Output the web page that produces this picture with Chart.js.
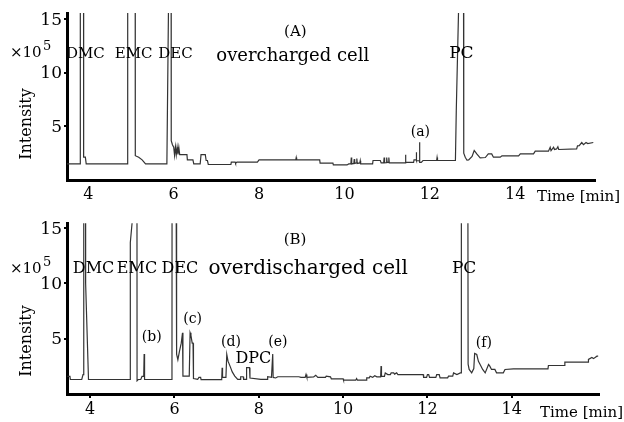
<!DOCTYPE html>
<html>
<head>
<meta charset="utf-8">
<script src="https://cdn.jsdelivr.net/npm/chart.js@4.4.1/dist/chart.umd.min.js"></script>
<style>
  html, body { margin: 0; padding: 0; background: #fff; }
  #wrap { position: relative; width: 624px; height: 422px; overflow: hidden; }
  .panel { position: absolute; left: 0; width: 624px; height: 211px; }
</style>
</head>
<body>
<div id="wrap">
  <div class="panel" style="top:0"><canvas id="cA" width="624" height="211"></canvas></div>
  <div class="panel" style="top:211px"><canvas id="cB" width="624" height="211"></canvas></div>
</div>
<script>
// ---- data (time in min, intensity in 1e5 counts; off-scale peaks given as 17) ----
const xTickValues = [4, 6, 8, 10, 12, 14];
const yTickValues = [5, 10, 15];

const timeA = [3.5,3.81,3.812,3.888,3.89,3.93,3.95,4.92,4.922,5.098,5.10,5.18,5.26,5.34,5.84,5.88,5.94,5.942,5.97,6.0,6.02,6.04,6.06,6.08,6.10,6.12,6.14,6.31,6.32,6.45,6.47,6.62,6.64,6.74,6.76,6.79,6.81,7.34,7.35,7.44,7.45,7.48,7.96,8.0,8.86,8.87,8.88,9.42,9.43,9.73,9.74,10.06,10.1,10.15,10.16,10.17,10.22,10.23,10.24,10.28,10.29,10.3,10.36,10.37,10.38,10.66,10.67,10.84,10.86,10.92,10.93,10.94,10.98,10.99,11.0,11.03,11.04,11.05,11.42,11.43,11.44,11.62,11.63,11.68,11.685,11.69,11.755,11.76,11.765,11.8,11.84,12.16,12.17,12.18,12.6,12.62,12.68,12.79,12.795,12.83,12.87,12.91,12.99,13.04,13.07,13.1,13.18,13.3,13.37,13.45,13.49,13.65,13.69,14.08,14.12,14.43,14.47,14.78,14.82,14.84,14.9,14.92,14.97,15.0,15.02,15.44,15.46,15.5,15.56,15.6,15.66,15.7,15.83];
const intensityA = [1.5,1.5,17,17,2.13,2.13,1.5,1.5,17,17,2.27,2.13,1.88,1.5,1.5,17,17,3.68,3.3,3.06,2.3,3.1,2.35,3.06,2.4,3.06,2.37,2.37,1.88,1.88,1.5,1.5,2.37,2.37,1.82,1.82,1.45,1.45,1.67,1.67,1.55,1.67,1.67,1.88,1.88,2.1,1.88,1.88,1.57,1.57,1.41,1.41,1.5,1.5,2.1,1.5,1.55,1.95,1.55,1.6,2.0,1.55,1.6,1.8,1.5,1.5,1.82,1.82,1.6,1.6,2.1,1.6,1.62,2.1,1.65,1.65,2.1,1.6,1.6,2.37,1.65,1.65,1.88,1.88,2.6,1.8,1.8,3.53,1.65,1.65,1.82,1.82,2.1,1.82,1.82,6.48,17,17,2.5,2.13,1.85,1.88,2.2,2.75,2.6,2.44,2.06,2.1,2.44,2.44,2.13,2.13,2.26,2.26,2.44,2.44,2.69,2.69,3.06,2.75,3.06,2.85,2.9,3.1,2.85,2.9,3.19,3.2,3.5,3.3,3.5,3.4,3.5];

const timeB = [3.46,3.52,3.53,3.8,3.83,3.845,3.85,3.89,3.892,3.96,4.95,4.952,5.03,5.11,5.112,5.14,5.2,5.23,5.27,5.28,5.29,5.94,5.942,6.04,6.05,6.08,6.12,6.16,6.19,6.2,6.35,6.37,6.39,6.42,6.44,6.45,6.55,6.58,6.62,6.63,7.12,7.13,7.14,7.22,7.24,7.27,7.32,7.37,7.43,7.5,7.56,7.57,7.63,7.64,7.7,7.71,7.78,7.79,8.05,8.2,8.21,8.3,8.33,8.34,8.4,8.45,8.95,9.0,9.1,9.12,9.14,9.3,9.35,9.4,9.58,9.6,9.7,9.72,10.0,10.01,10.3,10.32,10.34,10.55,10.56,10.62,10.64,10.7,10.75,10.8,10.89,10.9,10.91,10.98,11.0,11.06,11.12,11.14,11.2,11.22,11.27,11.3,11.9,11.91,11.98,12.0,12.03,12.05,12.2,12.22,12.28,12.3,12.48,12.5,12.6,12.62,12.7,12.78,12.8,12.805,12.96,12.965,12.99,13.05,13.1,13.12,13.17,13.21,13.25,13.31,13.37,13.45,13.48,13.52,13.6,13.64,13.8,13.84,14.04,14.86,14.87,15.25,15.26,15.81,15.82,15.9,15.94,16.02,16.05];
const intensityB = [1.6,1.6,1.31,1.31,1.76,1.76,17,17,10,1.31,1.31,13.7,17,17,1.2,1.31,1.31,1.6,1.6,3.62,1.31,1.31,17,17,3.6,3.1,3.9,4.6,5.54,1.62,1.62,5.54,5.3,4.6,4.6,1.4,1.32,1.5,1.5,1.3,1.3,2.38,1.5,1.5,3.58,2.97,2.5,2.0,1.62,1.32,1.32,1.56,1.56,1.32,1.32,2.38,2.38,1.45,1.32,1.32,1.56,1.5,3.62,1.5,1.45,1.56,1.56,1.5,1.5,1.77,1.5,1.55,1.7,1.5,1.5,1.62,1.55,1.37,1.37,1.25,1.25,1.4,1.25,1.25,1.46,1.46,1.6,1.5,1.65,1.55,1.55,2.52,1.6,1.6,1.91,1.76,1.76,1.91,1.91,1.8,1.91,1.76,1.76,1.5,1.5,1.76,1.76,1.5,1.5,1.76,1.76,1.46,1.46,1.61,1.61,1.91,1.76,1.91,1.91,17,17,2.7,2.22,1.91,2.3,3.66,3.57,2.95,2.67,2.22,1.91,2.67,2.52,2.22,2.22,1.91,1.91,2.22,2.27,2.27,2.58,2.58,2.88,2.88,3.13,3.3,3.2,3.42,3.42];

// annotation texts, anchored in data coordinates (minutes, 1e5)
const peakLabelsA = [
  { text: 'DMC', x: 3.93, y: 11.44, size: 15 },
  { text: 'EMC', x: 5.06, y: 11.44, size: 15 },
  { text: 'DEC', x: 6.04, y: 11.44, size: 15 },
  { text: 'overcharged cell', x: 8.79, y: 11.14, size: 18 },
  { text: '(A)', x: 8.85, y: 13.47, size: 15 },
  { text: 'PC', x: 12.74, y: 11.44, size: 17 },
  { text: '(a)', x: 11.78, y: 4.15, size: 14 }
];
const peakLabelsB = [
  { text: 'DMC', x: 4.08, y: 10.97, size: 16 },
  { text: 'EMC', x: 5.11, y: 10.97, size: 16 },
  { text: 'DEC', x: 6.13, y: 10.97, size: 16 },
  { text: 'overdischarged cell', x: 9.17, y: 10.81, size: 20 },
  { text: '(B)', x: 8.86, y: 13.53, size: 15 },
  { text: 'PC', x: 12.87, y: 10.97, size: 17 },
  { text: '(b)', x: 5.46, y: 4.78, size: 14 },
  { text: '(c)', x: 6.43, y: 6.44, size: 14 },
  { text: '(d)', x: 7.34, y: 4.33, size: 14 },
  { text: 'DPC', x: 7.87, y: 2.76, size: 16 },
  { text: '(e)', x: 8.45, y: 4.33, size: 14 },
  { text: '(f)', x: 13.34, y: 4.27, size: 14 }
];

const FONT = '"DejaVu Serif", "Liberation Serif", serif';

function toPoints(xs, ys) { return xs.map((x, i) => ({ x: x, y: ys[i] })); }

const textPlugin = {
  id: 'chromText',
  afterDraw(chart, args, opts) {
    const ctx = chart.ctx;
    const xs = chart.scales.x, ys = chart.scales.y;
    ctx.save();
    ctx.fillStyle = '#000';
    ctx.textBaseline = 'alphabetic';
    ctx.textAlign = 'center';
    (opts.labels || []).forEach(l => {
      ctx.font = l.size + 'px ' + FONT;
      ctx.fillText(l.text, xs.getPixelForValue(l.x), ys.getPixelForValue(l.y));
    });
    const m = opts.margin;
    // x10^5 unit
    ctx.textAlign = 'left';
    ctx.font = '15px ' + FONT;
    ctx.fillText('\u00d710', m.unitX, m.unitY);
    ctx.font = '13px ' + FONT;
    ctx.fillText('5', m.unitX + 33, m.unitY - 7);
    // x-axis title
    ctx.font = '15px ' + FONT;
    ctx.fillText('Time [min]', m.timeX, m.timeY);
    // y-axis title
    ctx.save();
    ctx.translate(m.intX, m.intY);
    ctx.rotate(-Math.PI / 2);
    ctx.textAlign = 'center';
    ctx.textBaseline = 'middle';
    ctx.font = '16px ' + FONT;
    ctx.fillText('Intensity', 0, 0);
    ctx.restore();
    ctx.restore();
  }
};

function makeChart(id, xs, ys, cfg) {
  return new Chart(document.getElementById(id), {
    type: 'line',
    data: {
      datasets: [{
        data: toPoints(xs, ys),
        borderColor: '#333',
        borderWidth: 1.2,
        pointRadius: 0,
        fill: false,
        tension: 0,
        clip: 0
      }]
    },
    options: {
      responsive: false,
      animation: false,
      devicePixelRatio: 1,
      layout: { padding: { left: 0, top: cfg.top, right: cfg.right, bottom: 0 } },
      plugins: {
        legend: { display: false },
        tooltip: { enabled: false },
        chromText: { labels: cfg.labels, margin: cfg.margin }
      },
      scales: {
        x: {
          type: 'linear',
          min: cfg.xmin, max: cfg.xmax,
          afterBuildTicks: s => { s.ticks = xTickValues.map(v => ({ value: v })); },
          afterFit: s => { s.height = cfg.xAxisH; },
          border: { display: true, color: '#000', width: 3 },
          grid: { display: cfg.xTickMarks, drawOnChartArea: false, drawTicks: cfg.xTickMarks, tickLength: 4, color: '#000', lineWidth: 2 },
          ticks: { color: '#000', padding: cfg.xPad, maxRotation: 0, autoSkip: false, font: { family: FONT, size: 16 } }
        },
        y: {
          min: cfg.ymin, max: cfg.ymax,
          afterBuildTicks: s => { s.ticks = yTickValues.map(v => ({ value: v })); },
          afterFit: s => { s.width = 67; },
          border: { display: true, color: '#000', width: 3 },
          grid: { display: true, drawOnChartArea: false, drawTicks: true, tickLength: 3, color: '#000', lineWidth: 2 },
          ticks: { color: '#000', padding: 2, labelOffset: 1, font: { family: FONT, size: 17 } }
        }
      }
    },
    plugins: [textPlugin]
  });
}

makeChart('cA', timeA, intensityA, {
  top: 13, right: 29, xmin: 3.5, xmax: 15.87, ymin: 0, ymax: 15.6,
  xAxisH: 31, xTickMarks: false, xPad: 5, labels: peakLabelsA,
  margin: { unitX: 10, unitY: 57, timeX: 537, timeY: 201, intX: 27, intY: 124 }
});
makeChart('cB', timeB, intensityB, {
  top: 12, right: 25, xmin: 3.45, xmax: 16.07, ymin: 0, ymax: 15.45,
  xAxisH: 28, xTickMarks: true, xPad: 2, labels: peakLabelsB,
  margin: { unitX: 10, unitY: 62, timeX: 540, timeY: 206, intX: 27, intY: 130 }
});
</script>
</body>
</html>
